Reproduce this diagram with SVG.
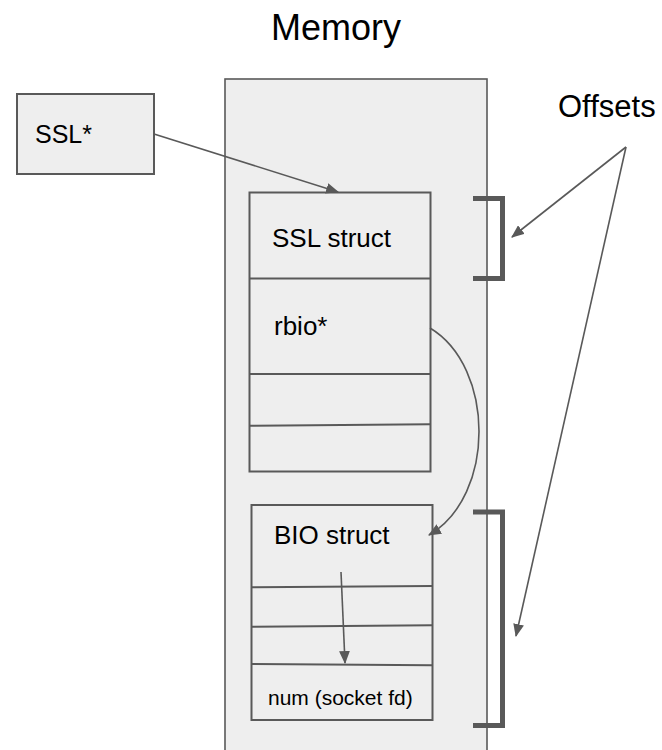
<svg xmlns="http://www.w3.org/2000/svg" width="662" height="750" viewBox="0 0 662 750">
  <style>
    .box { fill: #eeeeee; stroke: #595959; stroke-width: 2; }
    .mem { fill: #eeeeee; stroke: #595959; stroke-width: 1.6; }
    .div { fill: none; stroke: #595959; stroke-width: 2; }
    .lbl { font-family: "Liberation Sans", Arial, sans-serif; fill: #000000; }
    .edge { fill: none; stroke: #595959; stroke-width: 1.6; }
    .brace { fill: none; stroke: #595959; stroke-width: 5; stroke-linejoin: miter; }
  </style>
  <defs>
    <marker id="arrow" viewBox="0 0 12 10" refX="11" refY="5" markerWidth="13" markerHeight="11" markerUnits="userSpaceOnUse" orient="auto">
      <path d="M0,0 L12,5 L0,10 Z" fill="#595959"/>
    </marker>
  </defs>

  <g id="memory">
    <rect class="mem" x="225" y="79" width="262" height="690"/>
    <text class="lbl" x="271" y="40" font-size="36">Memory</text>
  </g>

  <g id="offsets">
    <text class="lbl" x="558" y="117" font-size="31">Offsets</text>
    <path class="brace" d="M473,198.5 H502.5 V278.5 H473"/>
    <path class="brace" d="M473,512 H502.5 V725.5 H473"/>
  </g>

  <g id="ssl-ptr">
    <rect class="box" x="17" y="94" width="137" height="80"/>
    <text class="lbl" x="35" y="143" font-size="25">SSL*</text>
  </g>

  <g id="ssl-struct">
    <rect class="box" x="249.5" y="192.5" width="181" height="279"/>
    <line class="div" x1="250" y1="278.5" x2="430" y2="278.5"/>
    <line class="div" x1="250" y1="374" x2="430" y2="374"/>
    <line class="div" x1="250" y1="425.7" x2="430" y2="424.2"/>
    <text class="lbl" x="272" y="247" font-size="26">SSL struct</text>
    <text class="lbl" x="274" y="335" font-size="26">rbio*</text>
  </g>

  <g id="bio-struct">
    <rect class="box" x="251.5" y="505" width="181" height="215"/>
    <line class="div" x1="252" y1="587.3" x2="432" y2="586"/>
    <line class="div" x1="252" y1="626.7" x2="432" y2="625.3"/>
    <line class="div" x1="252" y1="664" x2="432" y2="665.3"/>
    <text class="lbl" x="274" y="543.5" font-size="26">BIO struct</text>
    <text class="lbl" x="268" y="705" font-size="21">num (socket fd)</text>
  </g>

  <g id="connectors">
    <line class="edge" x1="154" y1="134" x2="338" y2="192" marker-end="url(#arrow)"/>
    <path class="edge" d="M430,328 C495,367 496,496 429,535" marker-end="url(#arrow)"/>
    <line class="edge" x1="341" y1="572" x2="345" y2="663" marker-end="url(#arrow)"/>
    <line class="edge" x1="626" y1="147" x2="512" y2="237" marker-end="url(#arrow)"/>
    <line class="edge" x1="626" y1="147" x2="516" y2="636" marker-end="url(#arrow)"/>
  </g>
</svg>
